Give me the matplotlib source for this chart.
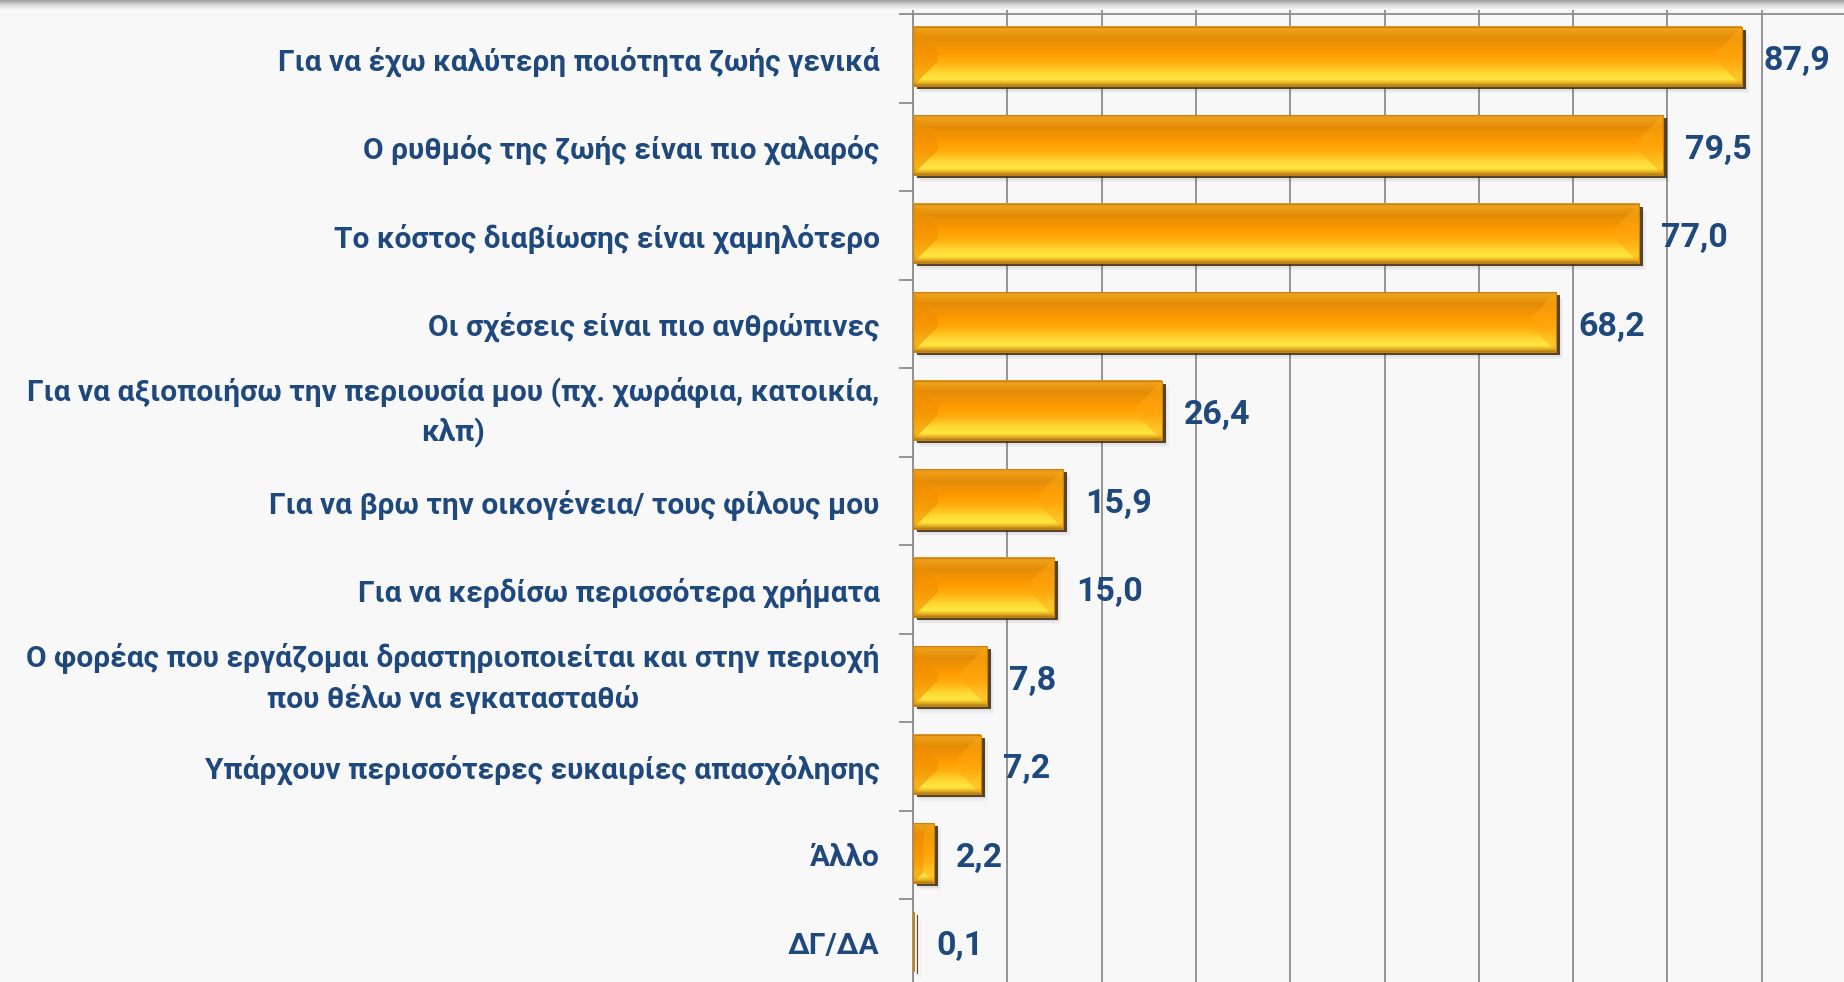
import numpy as np
import matplotlib
matplotlib.use("Agg")
import matplotlib.pyplot as plt
from matplotlib.colors import LinearSegmentedColormap
from matplotlib.patches import Rectangle, Polygon
from matplotlib import transforms

# Data
labels = [
    "Για να έχω καλύτερη ποιότητα ζωής γενικά",
    "Ο ρυθμός της ζωής είναι πιο χαλαρός",
    "Το κόστος διαβίωσης είναι χαμηλότερο",
    "Οι σχέσεις είναι πιο ανθρώπινες",
    "Για να αξιοποιήσω την περιουσία μου (πχ. χωράφια, κατοικία,\nκλπ)",
    "Για να βρω την οικογένεια/ τους φίλους μου",
    "Για να κερδίσω περισσότερα χρήματα",
    "Ο φορέας που εργάζομαι δραστηριοποιείται και στην περιοχή\nπου θέλω να εγκατασταθώ",
    "Υπάρχουν περισσότερες ευκαιρίες απασχόλησης",
    "Άλλο",
    "ΔΓ/ΔΑ",
]
values = [87.9, 79.5, 77.0, 68.2, 26.4, 15.9, 15.0, 7.8, 7.2, 2.2, 0.1]

TEXT = "#1F497D"
BG = "#F8F8F8"
GRID = "#8C8C8C"
FONT = ["Roboto", "DejaVu Sans"]

bar_grad = LinearSegmentedColormap.from_list("bar", [
    (0.00, "#E09828"),
    (0.06, "#F0A018"),
    (0.20, "#E48C08"),
    (0.45, "#FF9A00"),
    (0.62, "#FFB010"),
    (0.78, "#FFD835"),
    (0.89, "#FFE640"),
    (0.95, "#E8B020"),
    (1.00, "#B07818"),
])

W, H = 1844, 982
fig = plt.figure(figsize=(W / 100, H / 100), dpi=100, facecolor=BG)

n = len(values)
ypos = np.arange(n)[::-1]
bar_h = 0.67
row_px = 88.5

ax = fig.add_axes([913 / W, 0, 943 / W, 968 / H])
ax.set_facecolor(BG)
ylim = (10.5 - 968 / row_px, 10.5)

# axes, grid, ticks
ax.xaxis.tick_top()
ax.set_xticks(np.arange(0, 101, 10))
ax.set_xticklabels([])
ax.tick_params(axis="x", length=7, width=1.3, color=GRID, direction="out")
ax.set_yticks(np.arange(n - 1, -1, -1) + 0.5)
ax.set_yticklabels([])
ax.tick_params(axis="y", which="major", length=10, width=1.3, color=GRID, direction="out")
ax.set_yticks(ypos, minor=True)
ax.set_yticklabels(labels, minor=True)
ax.tick_params(axis="y", which="minor", length=0, pad=24)
for t in ax.get_yticklabels(minor=True):
    t.set_fontfamily(FONT)
    t.set_fontsize(21.5)
    t.set_fontweight("bold")
    t.set_color(TEXT)
    t.set_multialignment("center")
    t.set_linespacing(1.45)
    if "\n" in t.get_text():
        t.set_verticalalignment("center")
ax.grid(axis="x", color=GRID, linewidth=1.3)
ax.set_axisbelow(True)
for s in ["right", "bottom"]:
    ax.spines[s].set_visible(False)
for s in ["top", "left"]:
    ax.spines[s].set_color(GRID)
    ax.spines[s].set_linewidth(1.3)
ax.set_xlim(0, 100)
ax.set_ylim(*ylim)

p0, p1 = ax.transData.transform([[0, 0], [1, 1]])
px_x = p1[0] - p0[0]
px_y = p1[1] - p0[1]
bevel_px = 25

grad = np.linspace(0, 1, 256).reshape(-1, 1)
for y, v in zip(ypos, values):
    top, bot = y + bar_h / 2 + 0.02, y - bar_h / 2 + 0.02
    # soft shadow
    for k, a in [(9, 0.05), (7, 0.07), (5, 0.09)]:
        tr = transforms.offset_copy(ax.transData, fig, x=k - 2, y=-(k - 2), units="dots")
        ax.add_patch(Rectangle((0, bot), v, bar_h, transform=tr, facecolor="#404040",
                               alpha=a, edgecolor="none", zorder=2))
    tr = transforms.offset_copy(ax.transData, fig, x=4, y=-3, units="dots")
    ax.add_patch(Rectangle((0, bot), v, bar_h, transform=tr, facecolor="#3B2A12",
                           alpha=0.85, edgecolor="none", zorder=2.5))
    # gradient body
    ax.imshow(grad, cmap=bar_grad, aspect="auto", origin="upper",
              extent=(0, v, bot, top), zorder=3, interpolation="bilinear")
    # bevel facets on both ends
    dxp = min(bevel_px, v * px_x / 2)
    dx = dxp / px_x
    dy = min(dxp / px_y, bar_h / 2)
    left = Polygon([(0, top), (dx, top - dy), (dx, bot + dy), (0, bot)],
                   closed=True, facecolor="#F08E00", alpha=0.6, edgecolor="none", zorder=4)
    right = Polygon([(v, top), (v - dx, top - dy), (v - dx, bot + dy), (v, bot)],
                    closed=True, facecolor="#FFA810", alpha=0.5, edgecolor="none", zorder=4)
    ax.add_patch(left)
    ax.add_patch(right)
    ax.add_patch(Rectangle((0, bot), v, bar_h, facecolor="none", edgecolor="#C88410",
                           linewidth=0.8, zorder=5))
    ax.annotate(f"{v:.1f}".replace(".", ","), xy=(v, y), xytext=(22, -3),
                textcoords="offset pixels", ha="left", va="center",
                fontsize=24.5, fontweight="bold", color=TEXT, family=FONT, zorder=6)

ax.set_xlim(0, 100)
ax.set_ylim(*ylim)

# grey shadow strip along the top edge
sh = fig.add_axes([0, 1 - 10 / H, 1, 10 / H])
sh.imshow(np.linspace(0, 1, 64).reshape(-1, 1),
          cmap=LinearSegmentedColormap.from_list("sh", ["#9E9E9E", "#D8D8D8", BG]),
          aspect="auto", origin="upper", extent=(0, 1, 0, 1))
sh.set_axis_off()

fig.savefig("out.png", dpi=100, facecolor=BG)
